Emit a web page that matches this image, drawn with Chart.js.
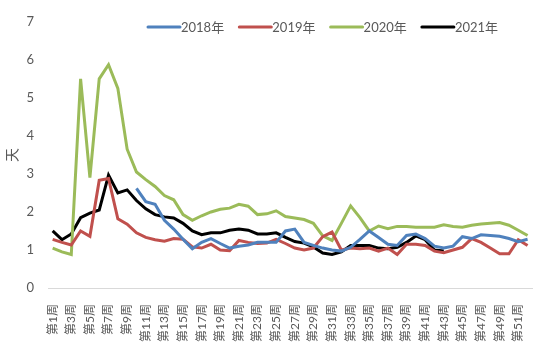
<!DOCTYPE html>
<html>
<head>
<meta charset="utf-8">
<script src="https://cdn.jsdelivr.net/npm/chart.js@4/dist/chart.umd.min.js"></script>
<style>
  html, body { margin: 0; padding: 0; background: #ffffff; }
  #wrap { width: 550px; height: 351px; }
</style>
</head>
<body>
<div id="wrap"><canvas id="chart" width="550" height="351"></canvas></div>
<script>
const weeks = Array.from({ length: 52 }, (_, i) => `第${i + 1}周`);
const seriesNames = ["2018年", "2019年", "2020年", "2021年"];

const days2018 = [null, null, null, null, null, null, null, null, null, 2.62,
  2.27, 2.2, 1.78, 1.55, 1.28, 1.03, 1.2, 1.3, 1.17, 1.05,
  1.1, 1.13, 1.2, 1.2, 1.2, 1.5, 1.55, 1.2, 1.12, 1.05,
  1.0, 0.97, 1.07, 1.28, 1.5, 1.33, 1.15, 1.12, 1.38, 1.42,
  1.3, 1.1, 1.05, 1.1, 1.35, 1.3, 1.4, 1.38, 1.36, 1.3,
  1.22, 1.28];
const days2019 = [1.28, 1.2, 1.13, 1.5, 1.36, 2.83, 2.88, 1.82, 1.68, 1.45,
  1.33, 1.27, 1.23, 1.3, 1.28, 1.08, 1.05, 1.15, 1.0, 0.98,
  1.25, 1.2, 1.17, 1.18, 1.28, 1.17, 1.05, 1.0, 1.05, 1.35,
  1.47, 1.0, 1.05, 1.03, 1.05, 0.97, 1.05, 0.88, 1.15, 1.15,
  1.12, 0.97, 0.93, 1.0, 1.07, 1.3, 1.2, 1.05, 0.9, 0.9,
  1.27, 1.12];
const days2020 = [1.05, 0.95, 0.88, 5.5, 2.9, 5.5, 5.87, 5.25, 3.65, 3.05,
  2.85, 2.67, 2.43, 2.32, 1.93, 1.78, 1.9, 2.0, 2.07, 2.1,
  2.2, 2.15, 1.93, 1.95, 2.03, 1.88, 1.84, 1.8, 1.7, 1.37,
  1.25, 1.7, 2.16, 1.85, 1.5, 1.63, 1.56, 1.62, 1.62, 1.6,
  1.6, 1.6, 1.66, 1.62, 1.6, 1.65, 1.68, 1.7, 1.72, 1.65,
  1.52, 1.38];
const days2021 = [1.5, 1.27, 1.42, 1.85, 1.97, 2.05, 2.97, 2.5, 2.58, 2.3,
  2.08, 1.93, 1.87, 1.84, 1.7, 1.5, 1.4, 1.45, 1.45, 1.52,
  1.55, 1.52, 1.42, 1.42, 1.45, 1.33, 1.22, 1.18, 1.08, 0.92,
  0.88, 0.95, 1.12, 1.12, 1.12, 1.05, 1.03, 1.07, 1.2, 1.37,
  1.27, 1.0, 0.97];

const colors = ["#4f81bd", "#c0504d", "#9bbb59", "#000000"];
const FONT = "Lato, 'Noto Sans CJK SC', sans-serif";
const TEXT = "#595959";

// legend drawn inside the plot area, like the Excel original
const insideLegend = {
  id: "insideLegend",
  afterDraw(chart) {
    const ctx = chart.ctx;
    ctx.save();
    ctx.font = `13px ${FONT}`;
    ctx.textBaseline = "middle";
    chart.data.datasets.forEach((ds, i) => {
      const x = 148 + i * 91.3;
      const y = 27;
      ctx.strokeStyle = ds.borderColor;
      ctx.lineWidth = 3;
      ctx.lineCap = "round";
      ctx.beginPath();
      ctx.moveTo(x, y);
      ctx.lineTo(x + 32, y);
      ctx.stroke();
      ctx.fillStyle = TEXT;
      ctx.fillText(ds.label, x + 33, y + 1);
    });
    ctx.restore();
  },
};

const seriesData = [days2018, days2019, days2020, days2021];

new Chart(document.getElementById("chart"), {
  type: "line",
  data: {
    labels: weeks,
    datasets: seriesNames.map((name, i) => ({
      label: name,
      data: seriesData[i],
      borderColor: colors[i],
      backgroundColor: colors[i],
      borderWidth: 3,
      pointRadius: 0,
      tension: 0,
      spanGaps: false,
    })),
  },
  options: {
    responsive: false,
    animation: false,
    layout: { padding: { left: 4, top: 8, right: 2, bottom: 0 } },
    plugins: {
      legend: { display: false },
      tooltip: { enabled: false },
    },
    scales: {
      x: {
        offset: true,
        grid: { display: false },
        border: { color: "#d9d9d9", width: 1 },
        ticks: {
          autoSkip: false,
          maxRotation: 90,
          minRotation: 90,
          padding: 8,
          color: TEXT,
          font: { size: 12, family: FONT },
          callback: (v, i) => (i % 2 === 0 ? weeks[i] : ""),
        },
        afterFit: (s) => { s.height = 63; },
      },
      y: {
        min: 0,
        max: 7,
        grid: { display: false, drawTicks: false },
        border: { display: false },
        ticks: {
          stepSize: 1,
          padding: 14,
          color: TEXT,
          font: { size: 13, family: FONT },
        },
        title: {
          display: true,
          text: "天",
          color: TEXT,
          font: { size: 14, family: FONT },
          padding: 0,
        },
        afterFit: (s) => { s.width = 44; },
      },
    },
  },
  plugins: [insideLegend],
});
</script>
</body>
</html>
